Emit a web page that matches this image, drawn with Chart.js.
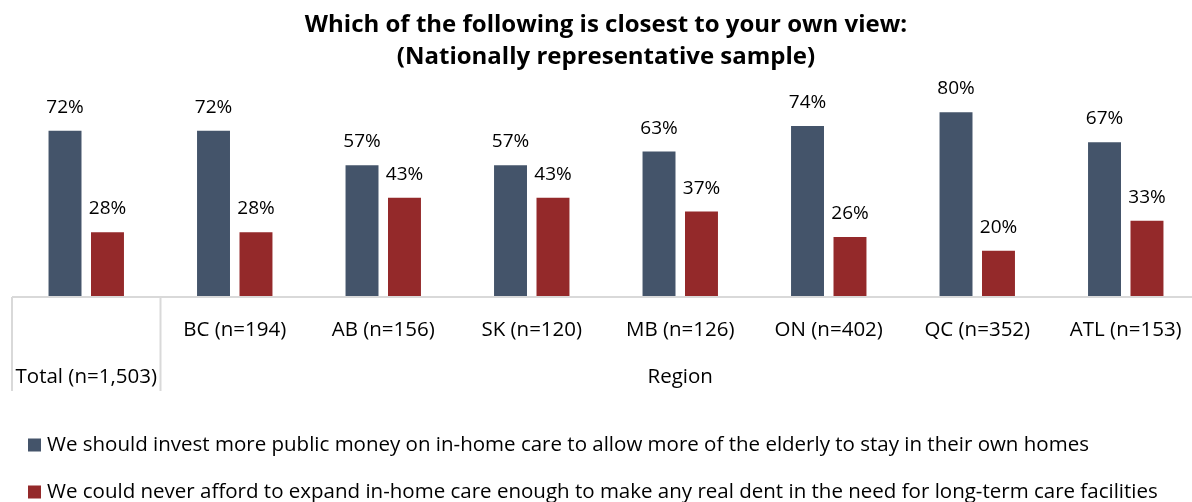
<!DOCTYPE html>
<html>
<head>
<meta charset="utf-8">
<title>Home care view by region</title>
<script src="https://cdn.jsdelivr.net/npm/chart.js@4.4.0/dist/chart.umd.min.js"></script>
<style>
  html, body { margin: 0; padding: 0; background: #fff; overflow: hidden; }
  #wrap { width: 1212px; height: 502px; }
</style>
</head>
<body>
<div id="wrap"><canvas id="viewChart" width="1212" height="502"></canvas></div>
<script>
'use strict';

var regions = ['Total (n=1,503)', 'BC (n=194)', 'AB (n=156)', 'SK (n=120)', 'MB (n=126)', 'ON (n=402)', 'QC (n=352)', 'ATL (n=153)'];
var investMore = [72, 72, 57, 57, 63, 74, 80, 67];
var cannotAfford = [28, 28, 43, 43, 37, 26, 20, 33];
var seriesNames = [
	'We should invest more public money on in-home care to allow more of the elderly to stay in their own homes',
	'We could never afford to expand in-home care enough to make any real dent in the need for long-term care facilities'
];
var groupName = 'Region';
var titleLines = ['Which of the following is closest to your own view:', '(Nationally representative sample)'];

var FONT = '"Open Sans", Lato, sans-serif';
var colors = ['#44546A', '#94292A'];

/*----value labels above the bars----*/
var valueLabels = {
	id: 'valueLabels',
	afterDatasetsDraw: function(chart) {
		var ctx = chart.ctx;
		ctx.save();
		ctx.font = '19px ' + FONT;
		ctx.fillStyle = '#000';
		ctx.textAlign = 'center';
		ctx.textBaseline = 'alphabetic';
		chart.data.datasets.forEach(function(ds, di) {
			chart.getDatasetMeta(di).data.forEach(function(bar, i) {
				ctx.fillText(ds.data[i] + '%', bar.x, bar.y - 18);
			});
		});
		ctx.restore();
	}
};

/*----category table under the bars----*/
var regionTable = {
	id: 'regionTable',
	afterDraw: function(chart) {
		var ctx = chart.ctx;
		var xs = chart.scales.x;
		var area = chart.chartArea;
		var base = area.bottom;
		var half = (xs.getPixelForValue(1) - xs.getPixelForValue(0)) / 2;
		var left = xs.getPixelForValue(0) - half;
		var split = xs.getPixelForValue(0) + half;

		ctx.save();
		ctx.strokeStyle = '#d9d9d9';
		ctx.lineWidth = 2;
		ctx.beginPath();
		ctx.moveTo(left, base);
		ctx.lineTo(area.right, base);
		ctx.moveTo(left, base);
		ctx.lineTo(left, base + 94);
		ctx.moveTo(split, base);
		ctx.lineTo(split, base + 94);
		ctx.stroke();

		ctx.font = '20.5px ' + FONT;
		ctx.fillStyle = '#000';
		ctx.textAlign = 'center';
		ctx.textBaseline = 'middle';
		regions.forEach(function(r, i) {
			var y = i === 0 ? base + 80 : base + 33;
			ctx.fillText(r, xs.getPixelForValue(i), y);
		});
		// group label centred under the regional categories
		var g = (xs.getPixelForValue(1) + xs.getPixelForValue(regions.length - 1)) / 2;
		ctx.fillText(groupName, g, base + 80);
		ctx.restore();
	}
};

/*----legend, one series per row----*/
var rowLegend = {
	id: 'rowLegend',
	afterDraw: function(chart) {
		var ctx = chart.ctx;
		ctx.save();
		ctx.font = '20.5px ' + FONT;
		ctx.textAlign = 'left';
		ctx.textBaseline = 'middle';
		chart.data.datasets.forEach(function(ds, i) {
			var y = 445 + i * 47;
			ctx.fillStyle = ds.backgroundColor;
			ctx.fillRect(28, y - 6.5, 13, 13);
			ctx.fillStyle = '#000';
			ctx.fillText(ds.label, 47, y);
		});
		ctx.restore();
	}
};

var ctx = document.getElementById('viewChart').getContext('2d');
var viewChart = new Chart(ctx, {
	type: 'bar',
	data: {
		labels: regions,
		datasets: [{
			label: seriesNames[0],
			data: investMore,
			backgroundColor: colors[0],
			categoryPercentage: 0.572,
			barPercentage: 0.776
		}, {
			label: seriesNames[1],
			data: cannotAfford,
			backgroundColor: colors[1],
			categoryPercentage: 0.572,
			barPercentage: 0.776
		}]
	},
	options: {
		responsive: false,
		animation: false,
		devicePixelRatio: 1,
		layout: {
			padding: { left: 12, right: 12, top: 0, bottom: 205 }
		},
		scales: {
			x: { display: false },
			y: { display: false, min: 0, max: 97 }
		},
		plugins: {
			legend: { display: false },
			tooltip: { enabled: false },
			title: {
				display: true,
				text: titleLines,
				color: '#000',
				font: { family: FONT, size: 24, weight: 'bold', lineHeight: 32 / 24 },
				padding: { top: 9, bottom: 0 }
			}
		}
	},
	plugins: [valueLabels, regionTable, rowLegend]
});
</script>
</body>
</html>
